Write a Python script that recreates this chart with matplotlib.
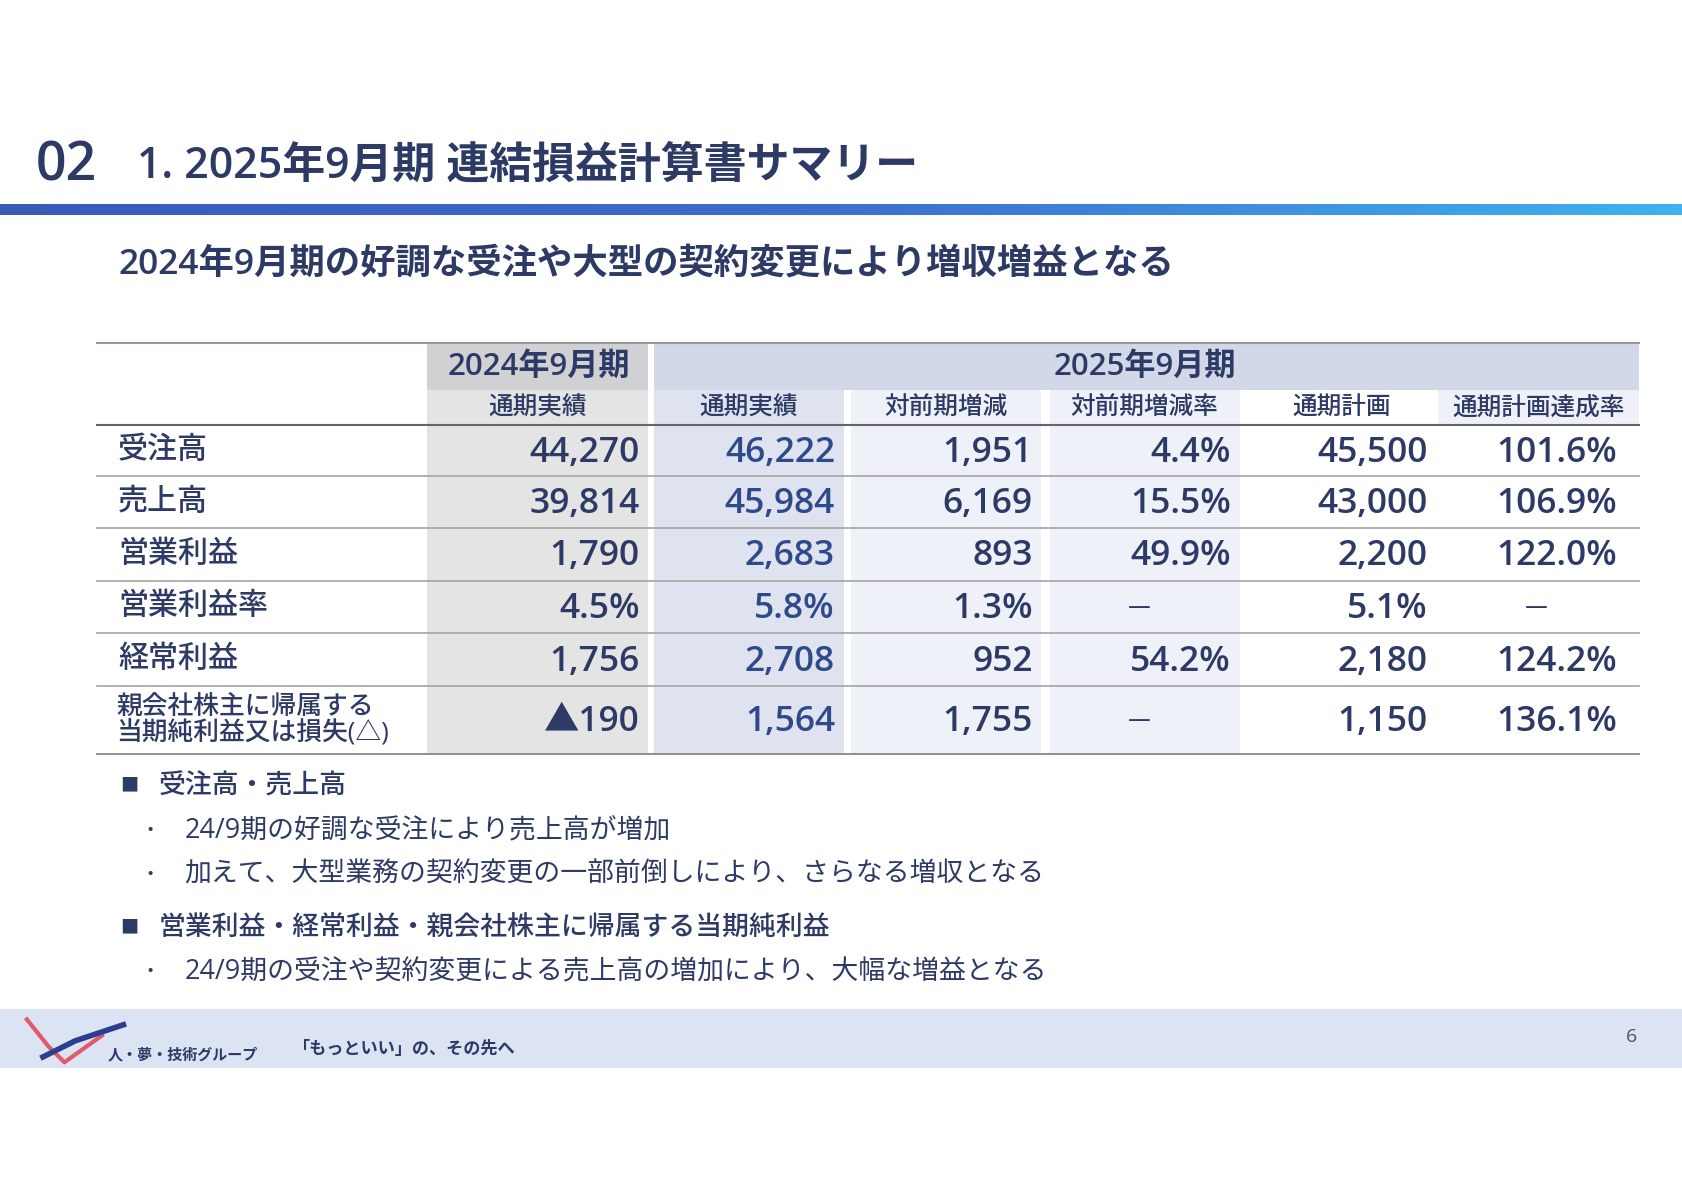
import matplotlib
matplotlib.use("Agg")
import matplotlib.pyplot as plt
from matplotlib.patches import Rectangle
from matplotlib.colors import LinearSegmentedColormap
import numpy as np

plt.rcParams['font.family'] = ['Open Sans', 'Noto Sans CJK JP', 'DejaVu Sans']

row_labels = ["受注高", "売上高", "営業利益", "営業利益率", "経常利益", "親会社株主に帰属する\n当期純利益又は損失(△)"]
col_headers = ["通期実績", "通期実績", "対前期増減", "対前期増減率", "通期計画", "通期計画達成率"]
fy2024 = ["44,270", "39,814", "1,790", "4.5%", "1,756", "▲190"]
fy2025 = ["46,222", "45,984", "2,683", "5.8%", "2,708", "1,564"]
yoy = ["1,951", "6,169", "893", "1.3%", "952", "1,755"]
yoy_rate = ["4.4%", "15.5%", "49.9%", "—", "54.2%", "—"]
plan = ["45,500", "43,000", "2,200", "5.1%", "2,180", "1,150"]
achieve = ["101.6%", "106.9%", "122.0%", "—", "124.2%", "136.1%"]

W, H = 1568, 1109
S = 1683 / 1568
def fs(px):
    return px * S * 0.72

fig = plt.figure(figsize=(16.83, 11.90), dpi=100)
ax = fig.add_axes([0, 0, 1, 1])
ax.axis('off')

navy = "#2e3a66"
blue = "#2f4a8a"
CJK = ['Noto Sans CJK JP', 'DejaVu Sans']

ax.text(33, 155, "02", fontsize=fs(50), color=navy, va='center', fontweight='semibold')
ax.text(128, 155, "1. 2025年9月期 連結損益計算書サマリー", fontsize=fs(40), color=navy, va='center', fontweight='semibold')
grad = np.linspace(0, 1, 256)[None, :]
cm = LinearSegmentedColormap.from_list("g", ["#3a5ab8", "#3d6fcc", "#3fb2f0"])
ax.imshow(grad, extent=[0, W, 200, 190], aspect='auto', cmap=cm, zorder=1)
ax.set_xlim(0, W); ax.set_ylim(H, 0)

ax.text(110, 247, "2024年9月期の好調な受注や大型の契約変更により増収増益となる", fontsize=fs(33), color=navy, va='center', fontweight='semibold')

cols = [(398, 604), (609, 786), (793, 970), (978, 1155), (1162, 1338), (1340, 1527)]
row_b = [396, 444, 492, 541, 590, 639, 703]
body_col = ["#e4e4e4", "#dfe3ef", "#eef1f8", "#eef1f8", "#ffffff", "#ffffff"]
sub_col = ["#e4e4e4", "#dfe3ef", "#eef1f8", "#eef1f8", "#ffffff", "#eef1f8"]
for (x0, x1), c in zip(cols, body_col):
    ax.add_patch(Rectangle((x0, 396), x1 - x0, 703 - 396, color=c, zorder=2, lw=0))
for (x0, x1), c in zip(cols, sub_col):
    ax.add_patch(Rectangle((x0, 363), x1 - x0, 33, color=c, zorder=2, lw=0))
ax.add_patch(Rectangle((398, 320), 206, 43, color="#d1d0d2", zorder=2, lw=0))
ax.add_patch(Rectangle((609, 320), 1527 - 609, 43, color="#d3d8e8", zorder=2, lw=0))

ax.plot([90, 1527], [320, 320], color="#999999", lw=1.5, zorder=3)
ax.plot([90, 1527], [396, 396], color="#666666", lw=1.5, zorder=3)
for y in row_b[1:-1]:
    ax.plot([90, 1527], [y, y], color="#aaaaaa", lw=1.3, zorder=3)
ax.plot([90, 1527], [703, 703], color="#888888", lw=1.3, zorder=3)

ax.text(502, 342, "2024年9月期", fontsize=fs(29), color=navy, ha='center', va='center', zorder=4, fontweight='semibold')
ax.text(1067, 342, "2025年9月期", fontsize=fs(29), color=navy, ha='center', va='center', zorder=4, fontweight='semibold')
for (x0, x1), h in zip(cols, col_headers):
    ax.text((x0 + x1) / 2, 380, h, fontsize=fs(23), color=navy, ha='center', va='center', zorder=4, family=CJK, fontweight='medium')

series = [fy2024, fy2025, yoy, yoy_rate, plan, achieve]
for i, lab in enumerate(row_labels):
    yc = (row_b[i] + row_b[i + 1]) / 2
    if "\n" in lab:
        ax.text(108, yc, lab, fontsize=fs(24), color=navy, va='center', linespacing=1.0, zorder=4, fontweight='medium')
    else:
        ax.text(110, yc, lab, fontsize=fs(28), color=navy, va='center', zorder=4, fontweight='medium')
    for j, ser in enumerate(series):
        v = ser[i]
        c = blue if j == 1 else navy
        x0, x1 = cols[j]
        if v == "—":
            ax.text((x0 + x1) / 2 - 5 if j == 3 else (x0 + x1) / 2 - 2, yc, "—", fontsize=fs(24), color=navy, ha='center', va='center', zorder=4, family=CJK)
        else:
            ax.text(x1 - 8 if j != 5 else x1 - 20, yc + 2, v, fontsize=fs(33), color=c, ha='right', va='center', zorder=4, fontweight='semibold')

ax.text(112, 733, "■", fontsize=fs(17), color=navy, va='center', family=CJK)
ax.text(148, 733, "受注高・売上高", fontsize=fs(25), color=navy, va='center', fontweight='medium')
ax.text(136, 774, "•", fontsize=fs(18), color=navy, va='center')
ax.text(172, 774, "24/9期の好調な受注により売上高が増加", fontsize=fs(25), color=navy, va='center')
ax.text(136, 815, "•", fontsize=fs(18), color=navy, va='center')
ax.text(172, 815, "加えて、大型業務の契約変更の一部前倒しにより、さらなる増収となる", fontsize=fs(25), color=navy, va='center')
ax.text(112, 865, "■", fontsize=fs(17), color=navy, va='center', family=CJK)
ax.text(148, 865, "営業利益・経常利益・親会社株主に帰属する当期純利益", fontsize=fs(25), color=navy, va='center', fontweight='medium')
ax.text(136, 906, "•", fontsize=fs(18), color=navy, va='center')
ax.text(172, 906, "24/9期の受注や契約変更による売上高の増加により、大幅な増益となる", fontsize=fs(25), color=navy, va='center')

ax.add_patch(Rectangle((0, 940), W, 55, color="#dce3f3", zorder=1, lw=0))
ax.text(100, 983, "人・夢・技術グループ", fontsize=fs(14), color=navy, va='center', fontweight='bold')
ax.text(272, 978, "「もっといい」の、その先へ", fontsize=fs(16), color=navy, va='center', fontweight='bold')
ax.text(1520, 966, "6", fontsize=fs(18), color="#555555", ha='center', va='center')
ax.plot([25, 45, 60, 95], [950, 975, 990, 965], color="#e05a6a", lw=3)
ax.plot([40, 70, 100, 115], [985, 970, 960, 955], color="#2a3f8f", lw=4)

fig.savefig("out.png", dpi=100)
